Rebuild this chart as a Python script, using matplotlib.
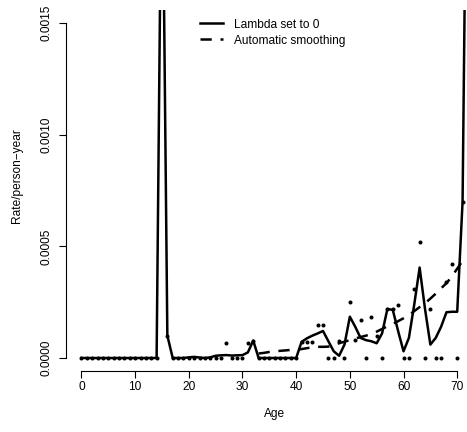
import numpy as np
import matplotlib
matplotlib.use("Agg")
import matplotlib.pyplot as plt

plt.rcParams['font.family'] = ['Liberation Sans', 'DejaVu Sans']

# observed rates by single year of age (dots)
ages = list(range(0, 73))
rates = [0.0] * 15 + [0.0025, 0.0001] + [0.0] * 10 + [
    0.000065, 0.0, 0.0, 0.0, 0.000068, 0.000078, 0.0,           # 27-33
    0.0, 0.0, 0.0, 0.0, 0.0, 0.0, 0.0,                           # 34-40
    0.00007, 0.00007, 0.00007, 0.000148, 0.000148, 0.0, 0.0,     # 41-47
    0.000077, 0.0, 0.00025, 0.00008, 0.00017, 0.0, 0.000185,     # 48-54
    0.0001, 0.0, 0.00022, 0.00022, 0.000237, 0.0, 0.0,           # 55-61
    0.00031, 0.00052, 0.0, 0.00022, 0.0, 0.0, 0.00034,           # 62-68
    0.00042, 0.0, 0.0007, 0.003]                                 # 69-72

# fit with lambda set to 0
fit_lambda0 = [0.0] * 15 + [0.0025, 0.0001, 0.0, 0.0, 0.0,
    0.000003, 0.000005, 0.000002, 0.0, 0.000003,                 # 20-24
    0.00001, 0.000012, 0.000013, 0.000011, 0.000012,             # 25-29
    0.000013, 0.000025, 0.000078, 0.0, 0.0,                      # 30-34
    0.0, 0.0, 0.0, 0.0, 0.0, 0.0,                                # 35-40
    0.000072, 0.000088, 0.0001, 0.00011, 0.000121,               # 41-45
    0.000075, 0.00003, 0.00001, 0.00006, 0.000185,               # 46-50
    0.00014, 0.00009, 0.00008, 0.000075, 0.000066,               # 51-55
    0.00011, 0.00022, 0.000215, 0.00012, 0.00003,                # 56-60
    0.00009, 0.00024, 0.000405, 0.00022, 0.00006,                # 61-65
    0.00009, 0.00014, 0.000205, 0.000207, 0.000207,              # 66-70
    0.0007, 0.003]                                               # 71-72

# automatic smoothing
smooth_ages = list(range(33, 72))
fit_auto = [0.00002, 0.000023, 0.000027, 0.00003, 0.000032, 0.000034,
            0.000036, 0.000037, 0.00004, 0.000044, 0.000048, 0.00005,
            0.00005, 0.000051, 0.000058, 0.000066, 0.000073, 0.00008,
            0.000087, 0.000094, 0.0001, 0.000107, 0.000118, 0.00013,
            0.000142, 0.000153, 0.000165, 0.000178, 0.000192, 0.00021,
            0.000228, 0.000245, 0.000266, 0.000288, 0.000312, 0.000335,
            0.000365, 0.0004, 0.000435]

xticks = [0, 10, 20, 30, 40, 50, 60, 70]
yticks = [0.0, 0.0005, 0.0010, 0.0015]
ytick_labels = ["0.0000", "0.0005", "0.0010", "0.0015"]

W, H = 467, 432
fig = plt.figure(figsize=(W / 100, H / 100), dpi=100)
left, right, top, bottom = 66, 483.4, 9.6, 371.4
ax = fig.add_axes([left / W, 1 - bottom / H, (right - left) / W, (bottom - top) / H])

ax.plot(ages, rates, 'o', color='black', markersize=2.9, markeredgewidth=0)
ax.plot(ages, fit_lambda0, '-', color='black', lw=1.8, label='Lambda set to 0')
ax.plot(smooth_ages, fit_auto, color='black', lw=1.8, dashes=(4.5, 3.5),
        label='Automatic smoothing')

ax.set_xlim(-2.88, 74.88)
ax.set_ylim(-0.00006, 0.00156)
for s in ['top', 'right']:
    ax.spines[s].set_visible(False)
ax.spines['left'].set_bounds(0, 0.0015)
ax.spines['bottom'].set_bounds(0, 70)
for s in ['left', 'bottom']:
    ax.spines[s].set_linewidth(0.8)

ax.set_xticks(xticks)
ax.set_xticklabels([str(t) for t in xticks])
ax.set_yticks(yticks)
ax.set_yticklabels(ytick_labels, rotation=90, va='center')
ax.tick_params(axis='both', length=5, width=0.8, labelsize=8.6)
ax.tick_params(axis='x', pad=2)
ax.tick_params(axis='y', pad=4.5)

fig.text(274.7 / W, 1 - 414 / H, "Age", ha='center', va='center', fontsize=8.6)
fig.text(17 / W, 1 - 176 / H, "Rate/person\u2212year", ha='center', va='center',
         rotation=90, fontsize=8.6)

ax.legend(loc='upper left', bbox_to_anchor=(200 / W, 1 - 18.5 / H),
          bbox_transform=fig.transFigure, frameon=False, fontsize=8.6,
          borderpad=0, borderaxespad=0, handlelength=1.9, handletextpad=0.95,
          labelspacing=0.35)

fig.savefig("out.png", dpi=100)
